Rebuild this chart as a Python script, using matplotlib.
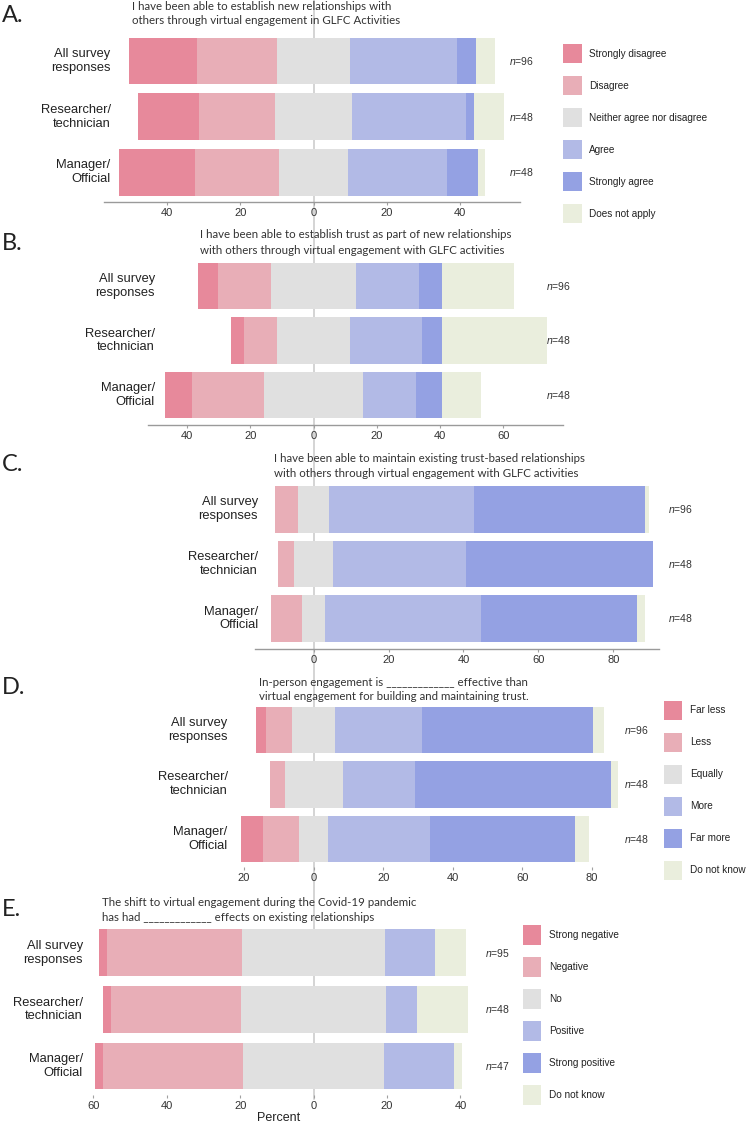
import matplotlib
matplotlib.use("Agg")
import matplotlib.pyplot as plt
from matplotlib.lines import Line2D
from matplotlib.patches import Rectangle
from matplotlib.ticker import FuncFormatter
import matplotlib.transforms as mtransforms

plt.rcParams["font.family"] = ["Liberation Sans", "DejaVu Sans"]
plt.rcParams["mathtext.fontset"] = "custom"
plt.rcParams["mathtext.it"] = "Liberation Sans:italic"
plt.rcParams["mathtext.rm"] = "Liberation Sans"

W, H, DPI = 747, 1124, 100

groups = ["All survey\nresponses", "Researcher/\ntechnician", "Manager/\nOfficial"]
colors = ["#E7899B", "#E8AEB7", "#E0E0E0", "#B2BAE6", "#94A1E3", "#EAEEDD"]

# ---- Panel A ----
a_cats = ["Strongly disagree", "Disagree", "Neither agree nor disagree",
          "Agree", "Strongly agree", "Does not apply"]
a_all = [18.75, 21.88, 19.79, 29.17, 5.21, 5.21]
a_res = [16.67, 20.83, 20.83, 31.25, 2.08, 8.33]
a_man = [20.83, 22.92, 18.75, 27.08, 8.33, 2.08]
a_n = [96, 48, 48]
a_title = ["I have been able to establish new relationships with",
           "others through virtual engagement in GLFC Activities"]

# ---- Panel B ----
b_all = [6.25, 16.67, 27.08, 19.79, 7.29, 22.92]
b_res = [4.17, 10.42, 22.92, 22.92, 6.25, 33.33]
b_man = [8.33, 22.92, 31.25, 16.67, 8.33, 12.50]
b_n = [96, 48, 48]
b_title = ["I have been able to establish trust as part of new relationships",
           "with others through virtual engagement with GLFC activities"]

# ---- Panel C ----
c_all = [0.0, 6.25, 8.33, 38.54, 45.83, 1.04]
c_res = [0.0, 4.17, 10.42, 35.42, 50.00, 0.0]
c_man = [0.0, 8.33, 6.25, 41.67, 41.67, 2.08]
c_n = [96, 48, 48]
c_title = ["I have been able to maintain existing trust-based relationships",
           "with others through virtual engagement with GLFC activities"]

# ---- Panel D ----
d_cats = ["Far less", "Less", "Equally", "More", "Far more", "Do not know"]
d_all = [3.13, 7.29, 12.50, 25.00, 48.96, 3.13]
d_res = [0.0, 4.17, 16.67, 20.83, 56.25, 2.08]
d_man = [6.25, 10.42, 8.33, 29.17, 41.67, 4.17]
d_n = [96, 48, 48]
d_title = ["In-person engagement is _____________ effective than",
           "virtual engagement for building and maintaining trust."]

# ---- Panel E ----
e_cats = ["Strong negative", "Negative", "No", "Positive", "Strong positive", "Do not know"]
e_all = [2.11, 36.84, 38.95, 13.68, 0.0, 8.42]
e_res = [2.08, 35.42, 39.58, 8.33, 0.0, 14.58]
e_man = [2.13, 38.30, 38.30, 19.15, 0.0, 2.13]
e_n = [95, 48, 47]
e_title = ["The shift to virtual engagement during the Covid-19 pandemic",
           "has had _____________ effects on existing relationships"]

ZERO = 313.6  # pixel x of the zero line

panels = [
    dict(letter="A.", letter_y=15.5, title=a_title, title_x=132, title_y=[6.5, 21],
         data=[a_all, a_res, a_man], n=a_n, xlim=(-57.3, 56.4), k=3.66,
         ticks=[-40, -20, 0, 20, 40], c1=60.9, s=55.7, top=30, bottom=201.7, h=0.835,
         label_x=110.7, n_x=509, spine=True, legend=(a_cats, 563.3, 53.7, 589.3)),
    dict(letter="B.", letter_y=244, title=b_title, title_x=199.7, title_y=[235, 250],
         data=[b_all, b_res, b_man], n=b_n, xlim=(-52.3, 78.8), k=3.16,
         ticks=[-40, -20, 0, 20, 40, 60], c1=286, s=54.5, top=255, bottom=425, h=0.855,
         label_x=155, n_x=545.7, spine=True, legend=None),
    dict(letter="C.", letter_y=465, title=c_title, title_x=274, title_y=[458.3, 473.3],
         data=[c_all, c_res, c_man], n=c_n, xlim=(-15.6, 92.2), k=3.745,
         ticks=[0, 20, 40, 60, 80], c1=509.3, s=54.6, top=480, bottom=649.3, h=0.855,
         label_x=258, n_x=668, spine=True, legend=None),
    dict(letter="D.", letter_y=688, title=d_title, title_x=259.3, title_y=[682.7, 696.7],
         data=[d_all, d_res, d_man], n=d_n, xlim=(-22, 92), k=3.48,
         ticks=[-20, 0, 20, 40, 60, 80], c1=730, s=54.4, top=700, bottom=867, h=0.855,
         label_x=227.7, n_x=624, spine=False, legend=(d_cats, 664, 710.3, 690)),
    dict(letter="E.", letter_y=909, title=e_title, title_x=101.8, title_y=[902.3, 917.3],
         data=[e_all, e_res, e_man], n=e_n, xlim=(-61, 42), k=3.67,
         ticks=[-60, -40, -20, 0, 20, 40], c1=952.7, s=56.7, top=925, bottom=1095, h=0.823,
         label_x=82.9, n_x=484.6, spine=False, legend=(e_cats, 522.7, 935, 549)),
]


def fx(px):
    return px / W


def fy(py):
    return 1 - py / H


fig = plt.figure(figsize=(W / DPI, H / DPI), dpi=DPI)
fig.patch.set_facecolor("white")

# fit title font size to the measured width of panel A's first line
renderer = fig.canvas.get_renderer()
probe = fig.text(0, 0, a_title[0], fontsize=10, family=["Lato", "DejaVu Sans"])
bw = probe.get_window_extent(renderer).width
probe.remove()
title_fs = 10 * 261.0 / bw

# zero line through all panels
fig.add_artist(Line2D([fx(ZERO), fx(ZERO)], [fy(0), fy(1099)], transform=fig.transFigure,
                      color="#C9C9C9", lw=1.1, zorder=-5))

for p in panels:
    x0, x1 = p["xlim"]
    k = p["k"]
    left_px = ZERO + x0 * k
    width_px = (x1 - x0) * k
    ax = fig.add_axes([fx(left_px), fy(p["bottom"]), width_px / W, (p["bottom"] - p["top"]) / H])
    ax.set_facecolor("none")
    ax.set_zorder(1)
    s, c1 = p["s"], p["c1"]
    y_top = -(c1 - p["top"]) / s
    y_bot = 2 + (p["bottom"] - (c1 + 2 * s)) / s
    ax.set_xlim(x0, x1)
    ax.set_ylim(y_bot, y_top)

    for i, row in enumerate(p["data"]):
        start = -(row[0] + row[1] + row[2] / 2.0)
        for j, v in enumerate(row):
            if v > 0:
                ax.barh(i, v, left=start, height=p["h"], color=colors[j], lw=0)
            start += v

    for sp in ["top", "right", "left"]:
        ax.spines[sp].set_visible(False)
    ax.spines["bottom"].set_visible(p["spine"])
    ax.spines["bottom"].set_color("#9A9A9A")
    ax.spines["bottom"].set_linewidth(1.0)
    ax.set_yticks([])
    ax.set_xticks(p["ticks"])
    ax.xaxis.set_major_formatter(FuncFormatter(lambda v, pos: f"{abs(v):.0f}"))
    ax.tick_params(axis="x", length=2.5, width=0.8, color="#A0A0A0", pad=1.8,
                   labelsize=8, labelcolor="#333333")

    tr = mtransforms.blended_transform_factory(fig.transFigure, ax.transData)
    for i, g in enumerate(groups):
        ax.text(fx(p["label_x"]), i, g, transform=tr, ha="right", va="center",
                fontsize=9.3, color="#222222", linespacing=1.2)
        ax.text(fx(p["n_x"]), i, f"$n$={p['n'][i]}", transform=tr, ha="left", va="center",
                fontsize=7.5, color="#333333")

    for line, ty in zip(p["title"], p["title_y"]):
        fig.text(fx(p["title_x"]), fy(ty), line, ha="left", va="center", fontsize=title_fs,
                 family=["Lato", "DejaVu Sans"], color="#333333")
    fig.text(fx(2), fy(p["letter_y"]), p["letter"], ha="left", va="center", fontsize=17,
             family=["Lato", "DejaVu Sans"], color="#222222")

    if p["letter"] == "E.":
        ax.set_xlabel("Percent", fontsize=9, color="#222222", labelpad=1)

    if p["legend"] is not None:
        cats, lx, ly0, tx = p["legend"]
        sw, sh, dy = 18.4, 19.4, 32.0
        for j, cat in enumerate(cats):
            cy = ly0 + j * dy
            fig.add_artist(Rectangle((fx(lx), fy(cy + sh / 2)), sw / W, sh / H,
                                     transform=fig.transFigure, color=colors[j], lw=0))
            fig.text(fx(tx), fy(cy), cat, ha="left", va="center", fontsize=7.2, color="#222222")

fig.savefig("out.png", dpi=DPI, facecolor="white")
